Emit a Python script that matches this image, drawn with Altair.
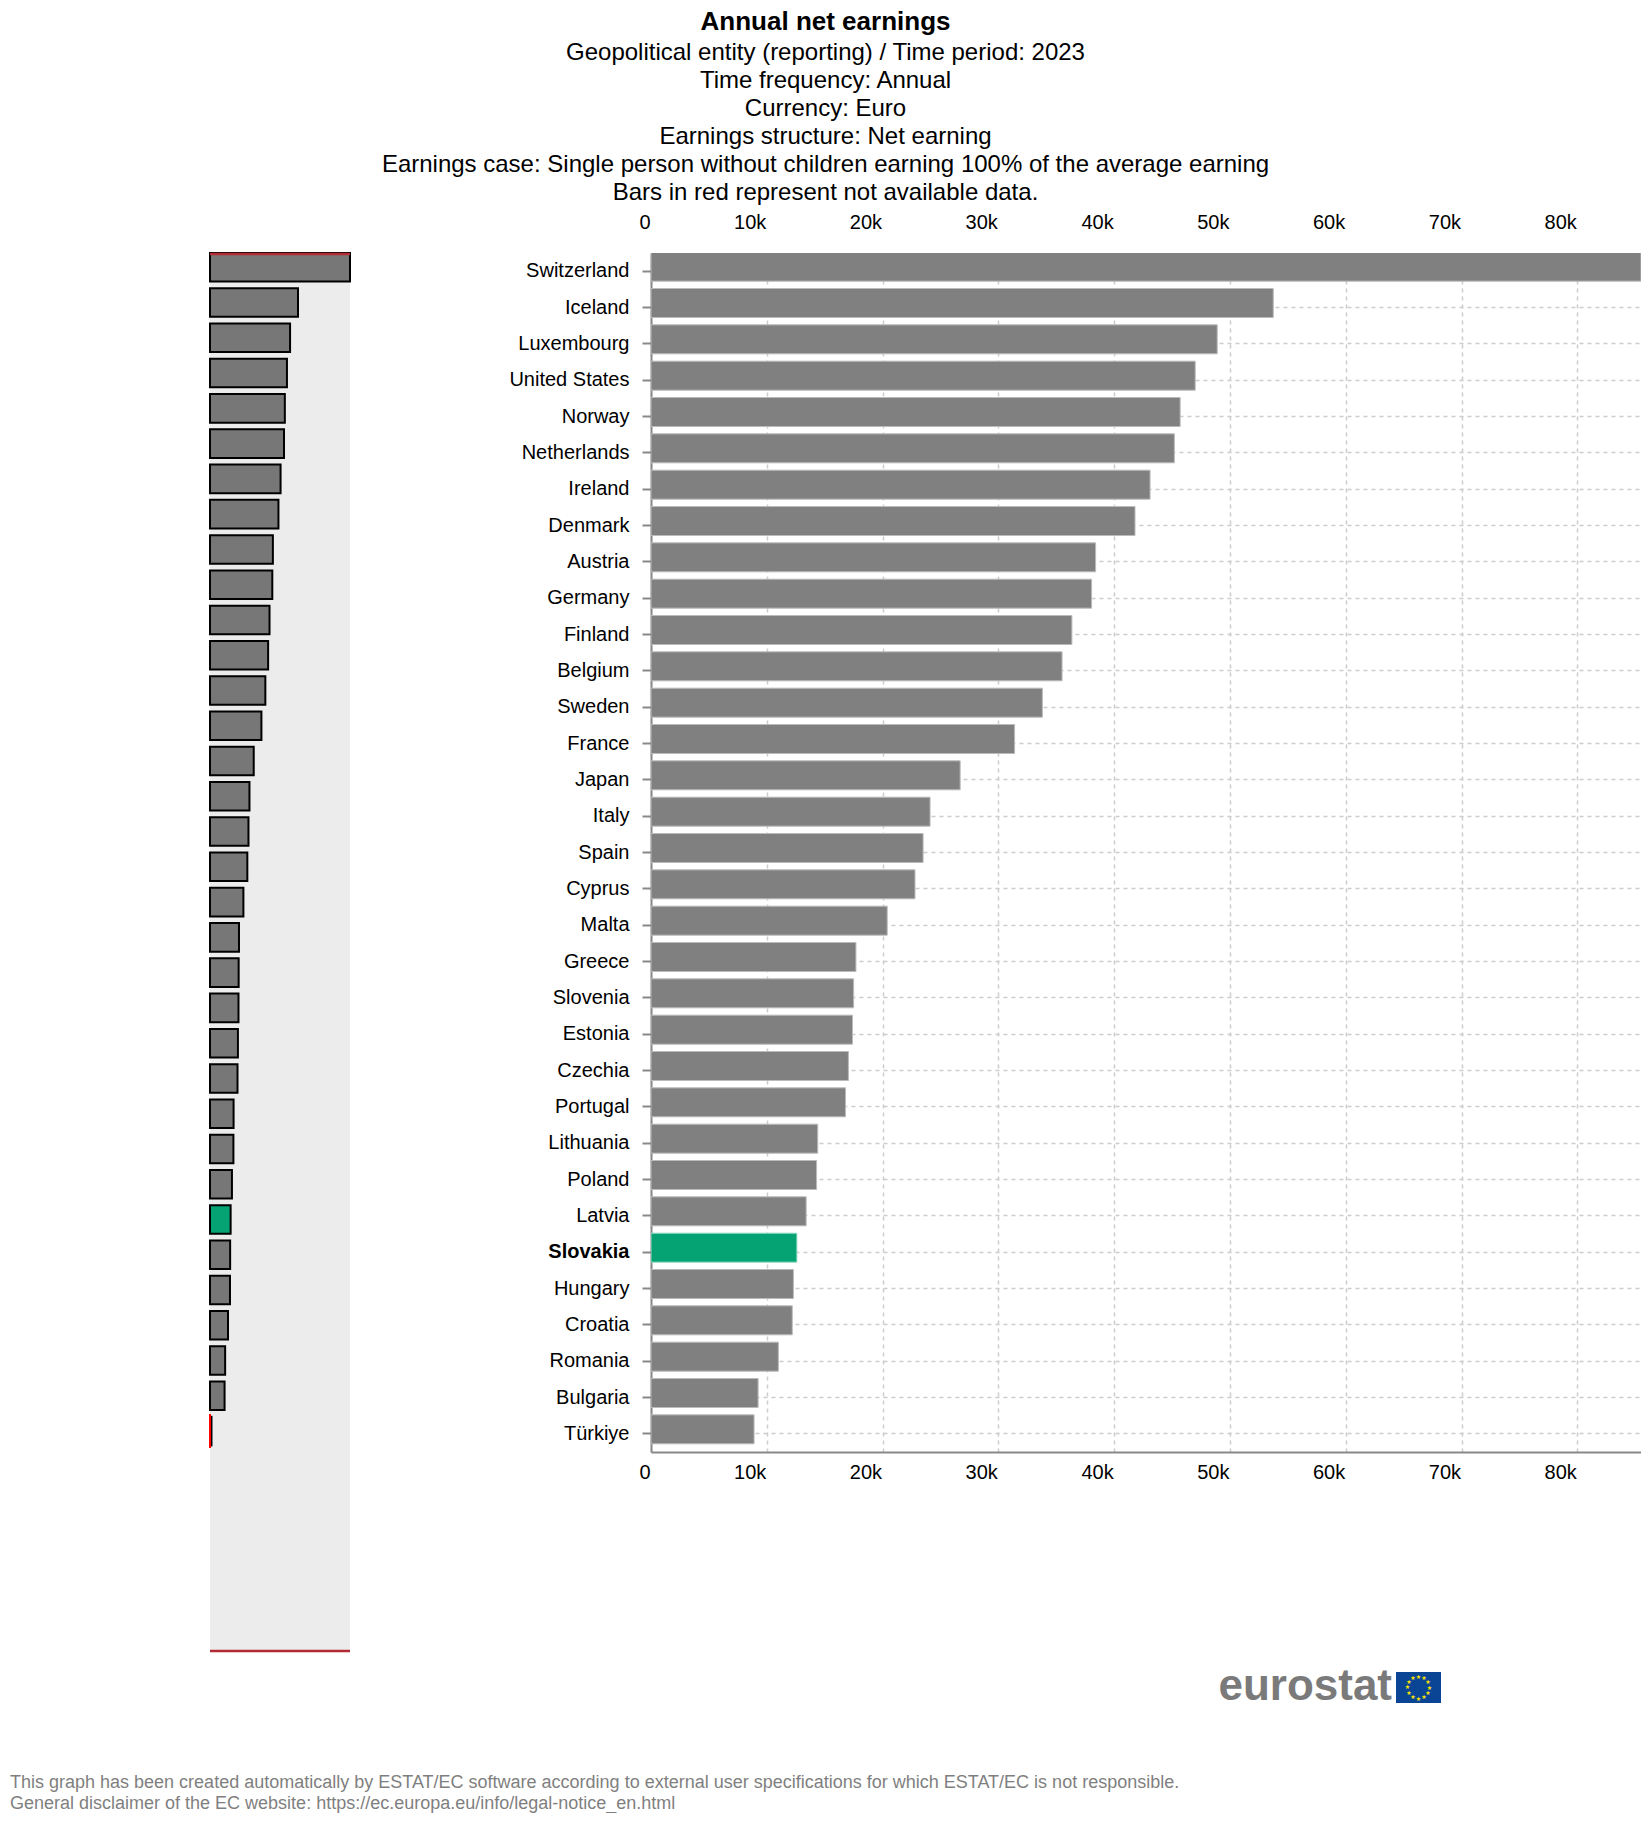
import altair as alt
import pandas as pd

countries = ["Switzerland","Iceland","Luxembourg","United States","Norway","Netherlands","Ireland","Denmark",
             "Austria","Germany","Finland","Belgium","Sweden","France","Japan","Italy","Spain","Cyprus","Malta",
             "Greece","Slovenia","Estonia","Czechia","Portugal","Lithuania","Poland","Latvia","Slovakia",
             "Hungary","Croatia","Romania","Bulgaria","Türkiye"]
earnings = [85500,53740,48900,47000,45700,45200,43100,41800,38400,38050,36350,35500,33800,31400,26700,24100,
            23500,22800,20400,17700,17500,17400,17050,16800,14400,14300,13400,12600,12300,12200,11000,9250,8900]
not_available_row = ["n/a"]
not_available_value = [900]
empty_rows = ["e1","e2","e3","e4","e5"]
x_ticks = [0,10000,20000,30000,40000,50000,60000,70000,80000]
highlight = "Slovakia"
title_main = "Annual net earnings"
subtitle_lines = ["Geopolitical entity (reporting) / Time period: 2023","Time frequency: Annual","Currency: Euro",
                  "Earnings structure: Net earning",
                  "Earnings case: Single person without children earning 100% of the average earning",
                  "Bars in red represent not available data."]
footer_lines = ["This graph has been created automatically by ESTAT/EC software according to external user specifications for which ESTAT/EC is not responsible.",
                "General disclaimer of the EC website: https://ec.europa.eu/info/legal-notice_en.html"]
logo_text = "eurostat"
flag_hours = list(range(12))

FONT = "Liberation Sans"
df = pd.DataFrame({"country": countries, "value": earnings})
df_over = pd.DataFrame({"country": countries + not_available_row, "value": earnings + not_available_value})
df_na = pd.DataFrame({"country": not_available_row, "value": [0]})
MAX = 85500
LABEL_EXPR = "datum.value === 0 ? '0' : (datum.value / 1000) + 'k'"
is_hl = alt.datum.country == highlight

def x_enc(orient, grid):
    return alt.X("value:Q", title=None, scale=alt.Scale(domain=[0, MAX], nice=False),
                 axis=alt.Axis(orient=orient, values=x_ticks, labelExpr=LABEL_EXPR, labelAlign="right",
                               labelFontSize=20, labelFont=FONT, labelColor="#000", labelFlush=False, labelOffset=-1,
                               labelPadding=21 if orient == "top" else 10, ticks=False,
                               domain=orient == "bottom", domainColor="#888", domainWidth=2,
                               grid=grid, gridColor="#ccc", gridDash=[4, 4], gridWidth=1.5, labelOverlap=False))

y_main = alt.Y("country:N", title=None, sort=None,
               scale=alt.Scale(domain=countries, paddingInner=0, paddingOuter=0),
               axis=alt.Axis(orient="left", labelFontSize=20, labelFont=FONT, labelColor="#000",
                             labelFontWeight={"condition": {"test": f"datum.value === '{highlight}'", "value": "bold"}, "value": "normal"},
                             tickColor="#888", tickWidth=2, tickSize=9, labelPadding=13,
                             domainColor="#888", domainWidth=2, grid=True, gridColor="#ccc",
                             gridDash=[4, 4], gridWidth=1.5, labelOverlap=False))

main_bars = alt.Chart(df).mark_bar(size=29, yOffset=-4.5, strokeWidth=1, clip=True).encode(
    x=x_enc("bottom", True), y=y_main,
    color=alt.condition(is_hl, alt.value("#05A374"), alt.value("#808080")),
    stroke=alt.condition(is_hl, alt.value("#9adcc6"), alt.value("#bbbbbb")))
top_axis = alt.Chart(df).mark_bar(opacity=0, clip=True).encode(x=x_enc("top", False), y=y_main)

logo = alt.Chart(pd.DataFrame({"t": [logo_text]})).mark_text(font=FONT, fontWeight="bold", fontSize=44, color="#7a7a7a", align="right", baseline="middle").encode(
    text="t:N", x=alt.value(741), y=alt.value(1434))
flag = alt.Chart(pd.DataFrame({"a": [0]})).mark_rect(color="#0a4595").encode(
    x=alt.value(745), x2=alt.value(790), y=alt.value(1419), y2=alt.value(1450))
stars = alt.Chart(pd.DataFrame({"h": flag_hours})).mark_text(text="★", fontSize=6, color="#FFE600", font="DejaVu Sans").encode(
    theta=alt.Theta("h:Q", scale=alt.Scale(domain=[0, 12], range=[0, 6.2832])),
    radius=alt.value(11), x=alt.value(767.5), y=alt.value(1434.5))

main = alt.layer(main_bars, top_axis, flag, stars, logo).resolve_axis(x="independent", y="shared").properties(width=990, height=1199)

y_over = alt.Y("country:N", sort=None, axis=None,
               scale=alt.Scale(domain=countries + not_available_row + empty_rows, paddingInner=0.19, paddingOuter=0.415, align=0))
x_over = alt.X("value:Q", axis=None, scale=alt.Scale(domain=[0, MAX], nice=False))
over_bars = alt.Chart(df_over).mark_bar(stroke="#000", strokeWidth=2).encode(
    x=x_over, y=y_over,
    color=alt.condition(is_hl, alt.value("#05A374"), alt.value("#777777")))
over_na = alt.Chart(df_na).mark_bar(stroke="#f00", strokeWidth=2, color="#f00", height=34).encode(x=x_over, y=y_over)
edge_top = alt.Chart(pd.DataFrame({"a": [0]})).mark_rule(color="#b22a33", strokeWidth=2.5).encode(
    x=alt.value(0), x2=alt.value(140), y=alt.value(1))
edge_bottom = alt.Chart(pd.DataFrame({"a": [0]})).mark_rule(color="#b22a33", strokeWidth=2.5).encode(
    x=alt.value(0), x2=alt.value(140), y=alt.value(1398))
foot1 = alt.Chart(pd.DataFrame({"t": [footer_lines[0]]})).mark_text(font=FONT, fontSize=18, color="#7f7f7f", align="left", baseline="middle").encode(
    text="t:N", x=alt.value(-200), y=alt.value(1530))
foot2 = alt.Chart(pd.DataFrame({"t": [footer_lines[1]]})).mark_text(font=FONT, fontSize=18, color="#7f7f7f", align="left", baseline="middle").encode(
    text="t:N", x=alt.value(-200), y=alt.value(1551))
over = alt.layer(over_bars, over_na, edge_top, edge_bottom, foot1, foot2).properties(
    width=140, height=1398, view=alt.ViewBackground(fill="#ececec", stroke=None))

chart = alt.hconcat(over, main, spacing=301, bounds="flush").properties(
    padding={"left": 2, "top": 1, "right": 0, "bottom": 0},
    title=alt.TitleParams(text=title_main, subtitle=subtitle_lines, font=FONT, fontSize=26, fontWeight="bold", color="#000",
                          subtitleFont=FONT, subtitleFontSize=24, subtitleColor="#000", subtitleLineHeight=28,
                          subtitlePadding=6, anchor="middle", offset=7, lineHeight=26)
).configure_view(stroke=None)

chart.save("out.html", embed_options={"renderer": "svg", "actions": False})
